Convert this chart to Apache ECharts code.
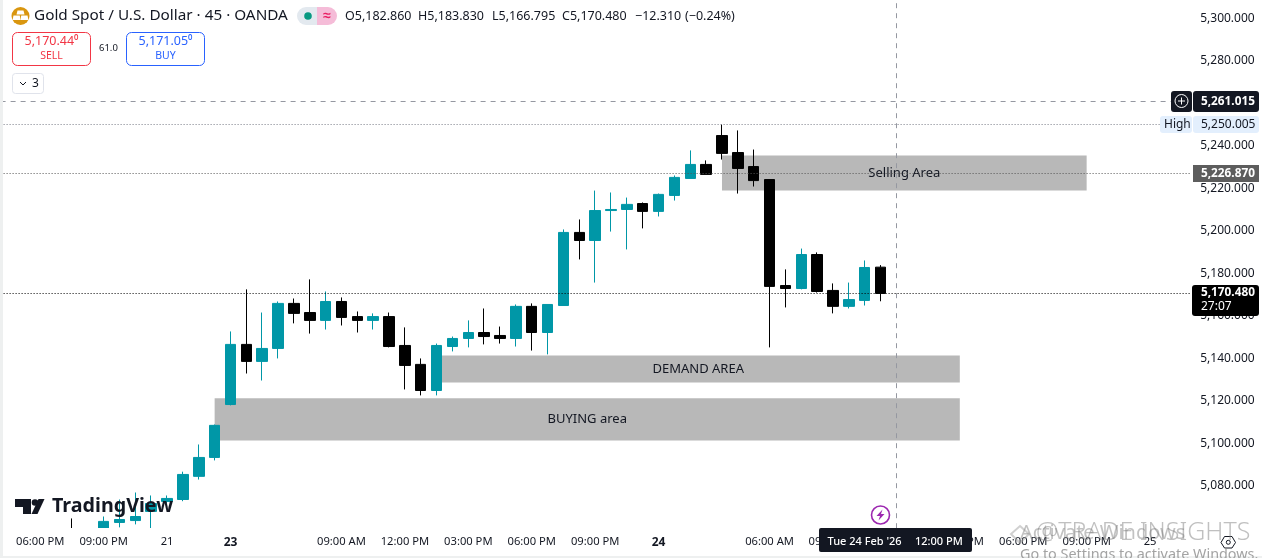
<!DOCTYPE html>
<html>
<head>
<meta charset="utf-8">
<style>html,body{margin:0;padding:0;background:#fff;overflow:hidden}#c{width:1262px;height:558px}</style>
<script src="https://cdn.jsdelivr.net/npm/echarts@6/dist/echarts.min.js"></script>
</head>
<body>
<div id="c"></div>
<script>
const barCount = 75;
const tickBars = [2,6,10,14,21,25,29,33,37,41,48,52,56,60,64,68,72];
const tickTexts = ['06:00 PM','09:00 PM','21','23','09:00 AM','12:00 PM','03:00 PM','06:00 PM','09:00 PM','24','06:00 AM','09:00 AM','12:00 PM','03:00 PM','06:00 PM','09:00 PM','25'];
const boldTicks = ['23','24'];
const yTickStep = 20;
const opens = [null,null,null,null,5058.9,null,5056.6,5062.7,5063.6,5067.9,5072.6,5073.5,5084.4,5093.3,5118.2,5146.5,5138.5,5144.6,5165.8,5161.5,5157.8,5166.7,5159.6,5157.8,5159.6,5146,5137.1,5124.8,5145.5,5149.3,5152.1,5150.7,5149.3,5164.4,5152.1,5164.8,5199.2,5195.4,5209.5,5210,5212.8,5209.1,5216.6,5224.6,5231.2,5244.8,5236.8,5230.2,5224.1,5174.2,5172.8,5188.8,5171.9,5164.4,5167.2,5182.86];
const closes = [null,null,null,null,5051.9,null,5063.2,5064.1,5065.5,5071.6,5074,5085.3,5093.3,5108.4,5146.5,5138.5,5144.6,5165.8,5161.1,5157.8,5166.7,5159.2,5157.8,5159.6,5145.5,5136.6,5124.8,5146,5149.3,5152.1,5150.2,5149.3,5164.4,5152.1,5165.3,5199.2,5195.4,5209.5,5210,5212.4,5209.1,5217.1,5225.1,5231.2,5226.5,5236.4,5229.3,5223.6,5173.8,5172.8,5188.8,5171.4,5164.4,5167.6,5182.7,5170.48];
const lows = [null,null,null,null,5049.5,null,5054.2,5060.4,5061.8,5058.9,5071.6,5072.7,5082.9,5091.9,5117.8,5132.8,5129.5,5139.9,5156.4,5151.6,5153.5,5155.4,5152.1,5153.5,5145.1,5125.3,5122.5,5122.5,5143.2,5145.1,5146.5,5146.9,5145.5,5143.6,5141.8,5164.8,5186.5,5175.6,5199.6,5191.2,5201.1,5206.7,5214.2,5224.6,5226.5,5233.5,5217.5,5220.8,5145.1,5163.9,5172.4,5170.9,5161.1,5163.4,5164.8,5166.795];
const highs = [null,null,null,null,5064.6,null,5065.5,5073.5,5076.8,5075.4,5075.4,5086.6,5099.4,5108.8,5152.6,5172.4,5161.5,5166.7,5168.1,5177.1,5171.4,5168.6,5162,5161.1,5161.5,5154.5,5139.9,5146.9,5150.2,5157.8,5163.4,5154.9,5165.3,5165.8,5165.3,5200.6,5205.3,5218.9,5218,5215.6,5213.3,5217.5,5226,5237.8,5233.1,5250.005,5247.2,5238.2,5224.1,5181.8,5191.6,5189.8,5175.2,5175.6,5186,5183.83];
const zones = [
  {name:'Selling Area', from:45, to:68, top:5235.4, bottom:5218.9},
  {name:'DEMAND AREA', from:27, to:60, top:5141.3, bottom:5128.6},
  {name:'BUYING area', from:13, to:60, top:5121.1, bottom:5101.3}
];
const highPrice = 5250.005, bidLinePrice = 5226.87, lastPrice = 5170.48, crossPrice = 5261.015, crossBar = 56;
const fmt = v => v.toLocaleString('en-US',{minimumFractionDigits:3,maximumFractionDigits:3});
const categories = Array.from({length:barCount},(_,i)=>{const p=tickBars.indexOf(i);return p<0?'':tickTexts[p];});
const bars = opens.map((o,i)=> o===null ? ['-','-','-','-'] : [o,closes[i],lows[i],highs[i]]);
const FF = '"Noto Sans", sans-serif';
const INK = '#131722';
function t(x,y,text,size,fill,extra){return {type:'text',z:50,style:Object.assign({x,y,text,fontSize:size,fontFamily:FF,fill,verticalAlign:'middle'},extra||{})};}
function r(x,y,w,h,fill,rad,stroke,z){return {type:'rect',z:z||49,shape:{x,y,width:w,height:h,r:rad||0},style:{fill:fill,stroke:stroke||null,lineWidth:stroke?1:0}};}

const graphics = [
  // time-scale pane: candles end at its upper edge
  r(3,528,1190,28,'#fff',0,null,5),
  // page edge strips
  r(0,0,3,558,'#eef0f0'), r(0,556,1262,2,'#eef0f0'),
  // header
  {type:'circle',z:50,shape:{cx:20.5,cy:16,r:9},style:{fill:'#d9960f'}},
  {type:'polygon',z:51,shape:{points:[[17.5,10.5],[23.5,10.5],[24.5,14.5],[16.5,14.5]]},style:{fill:'#fff'}},
  {type:'polygon',z:51,shape:{points:[[13.5,15.5],[19.8,15.5],[20.5,20],[12.5,20]]},style:{fill:'#fff'}},
  {type:'polygon',z:51,shape:{points:[[21.2,15.5],[27.5,15.5],[28.5,20],[20.5,20]]},style:{fill:'#fff'}},
  t(34,16,'Gold Spot / U.S. Dollar · 45 · OANDA',15.3,INK),
  r(297,7,22,18,'#e3e9ef',[9,0,0,9]),
  r(317,7,20,18,'#f5bcd8',[0,9,9,0]),
  {type:'circle',z:51,shape:{cx:308,cy:16,r:3.8},style:{fill:'#089981'}},
  t(327,16,'≈',14,'#e91e63',{align:'center',fontWeight:'bold'}),
  t(345,16,'O5,182.860',12.5,INK),
  t(418,16,'H5,183.830',12.5,INK),
  t(492,16,'L5,166.795',12.5,INK),
  t(562,16,'C5,170.480',12.5,INK),
  t(635,16,'−12.310',12.5,INK),
  t(685,16,'(−0.24%)',12.5,INK),
  r(12.5,32.5,78,33,'#fff',5,'#f23645'),
  t(51.5,41.5,'5,170.44⁰',12.5,'#f23645',{align:'center'}),
  t(51.5,56,'SELL',10.5,'#f23645',{align:'center'}),
  t(99,48,'61.0',9.5,INK),
  r(126.5,32.5,78,33,'#fff',5,'#2962ff'),
  t(165.5,41.5,'5,171.05⁰',12.5,'#2962ff',{align:'center'}),
  t(165.5,56,'BUY',10.5,'#2962ff',{align:'center'}),
  r(12.5,73.5,31,20,'#fff',3,'#e0e3eb'),
  {type:'polyline',z:51,shape:{points:[[20,82],[23,85],[26,82]]},style:{stroke:INK,lineWidth:1,fill:null}},
  t(32,84,'3',12,INK),
  // TradingView logo
  {type:'polygon',z:50,shape:{points:[[15,499],[31,499],[31,514],[23,514],[23,507],[15,507]]},style:{fill:'#131722'}},
  {type:'circle',z:50,shape:{cx:35,cy:502.5,r:3.3},style:{fill:'#131722'}},
  {type:'polygon',z:50,shape:{points:[[38.5,499],[44.5,499],[37.5,514],[31.5,514]]},style:{fill:'#131722'}},
  t(52,506.5,'TradingView',19.7,'#131722',{fontWeight:'bold'}),
  // price tags
  r(1171,91,21,21,'#131722',3),
  {type:'circle',z:51,shape:{cx:1181.5,cy:101,r:6.5},style:{fill:'none',stroke:'#fff',lineWidth:1}},
  {type:'line',z:51,shape:{x1:1178,y1:101,x2:1185,y2:101},style:{stroke:'#fff',lineWidth:1}},
  {type:'line',z:51,shape:{x1:1181.5,y1:97.5,x2:1181.5,y2:104.5},style:{stroke:'#fff',lineWidth:1}},
  r(1193,91,66,21,'#131722',3),
  t(1201,101.5,fmt(crossPrice),11.8,'#fff',{fontWeight:'bold'}),
  r(1160,116,32,17,'#e3effd',3),
  t(1164,124.5,'High',12,INK),
  r(1193,116,66,17,'#e3effd',3),
  t(1201,124.5,fmt(highPrice),12,INK),
  r(1193,165,66,17,'#5d5d5d',0),
  t(1201,173.5,fmt(bidLinePrice),11.8,'#fff',{fontWeight:'bold'}),
  r(1192,285,67,31,'#000',3),
  t(1201,293,fmt(lastPrice),11.8,'#fff',{fontWeight:'bold'}),
  t(1201,307,'27:07',12,'#fff'),
  // crosshair time tag
  r(819,528,153,24,'#131722',2),
  t(827.5,542,"Tue 24 Feb '26",11,'#fff',{fontWeight:'500'}),
  t(915,542,'12:00 PM',11,'#fff',{fontWeight:'500'}),
  // lightning badge
  {type:'circle',z:50,shape:{cx:880.5,cy:515,r:9},style:{fill:'#fff',stroke:'#9c27b0',lineWidth:1.6}},
  {type:'polygon',z:51,shape:{points:[[882.5,509.5],[876.5,516],[880,516],[878.5,520.5],[884.5,514],[881,514]]},style:{fill:'#9c27b0'}},
  // settings hex
  {type:'polygon',z:50,shape:{points:[[1224.5,536.5],[1232,536.5],[1235.5,542.5],[1232,548],[1224.5,548],[1221,542.5]]},style:{fill:'#fff',stroke:INK,lineWidth:1}},
  {type:'circle',z:51,shape:{cx:1228.3,cy:542.3,r:2},style:{fill:'#fff',stroke:INK,lineWidth:1}},
  // overlays: watermark and OS notice
  {type:'polygon',z:60,shape:{points:[[1020,526],[1029,534],[1020,543],[1011,534]]},style:{fill:'none',stroke:'rgba(150,150,150,.45)',lineWidth:2}},
  t(1036,533,'@TRADE INSIGHTS',25,'rgba(130,130,130,.5)',{fontWeight:'300'}),
  t(1020,533,'Activate Windows',20,'rgba(120,120,120,.45)'),
  t(1020,555,'Go to Settings to activate Windows.',14.4,'rgba(140,140,140,.8)')
];

const chart = echarts.init(document.getElementById('c'),null,{renderer:'canvas'});
chart.setOption({
  animation:false,
  backgroundColor:'#fff',
  grid:{left:0.6,top:0.5,width:1189.1,height:527.7,containLabel:false},
  xAxis:{type:'category',z:10,data:categories,boundaryGap:true,axisLine:{show:false},axisTick:{show:false},splitLine:{show:false},
    axisLabel:{interval:0,margin:8.5,color:INK,fontSize:11.2,fontFamily:FF,hideOverlap:false,
      formatter:v=>boldTicks.includes(v)?'{b|'+v+'}':v,rich:{b:{fontWeight:'bold',fontSize:12,color:INK,fontFamily:FF}}}},
  yAxis:{type:'value',position:'right',min:5060,max:5308.35,interval:yTickStep,scale:true,
    axisLine:{show:false},axisTick:{show:false},splitLine:{show:false},
    axisLabel:{margin:10.5,color:INK,fontSize:12,fontFamily:FF,align:'left',
      formatter:v=>(v%yTickStep===0&&v>5060)?fmt(v):''}},
  series:[{
    type:'candlestick',data:bars,barWidth:11,
    itemStyle:{color:'#0097a7',color0:'#000',borderColor:'#0097a7',borderColor0:'#000',borderWidth:1},
    markArea:{silent:true,
      itemStyle:{color:'#b8b8b8'},
      label:{show:true,position:'inside',color:INK,fontSize:13,fontFamily:FF},
      data:zones.map(z=>[{name:z.name,xAxis:z.from,yAxis:z.top},{xAxis:z.to,yAxis:z.bottom}])},
    markLine:{silent:true,symbol:'none',label:{show:false},animation:false,precision:5,
      data:[
        {yAxis:crossPrice,lineStyle:{color:'#9598a1',type:[5,5],width:1}},
        {xAxis:crossBar,lineStyle:{color:'#9598a1',type:[5,5],width:1}},
        {yAxis:highPrice,lineStyle:{color:'#787b86',type:[1,2],width:1}},
        {yAxis:bidLinePrice,lineStyle:{color:'#555',type:[1,2],width:1}},
        {yAxis:lastPrice,lineStyle:{color:'#000',type:[1,2],width:1}}
      ]}
  }],
  graphic:graphics
});
</script>
</body>
</html>
